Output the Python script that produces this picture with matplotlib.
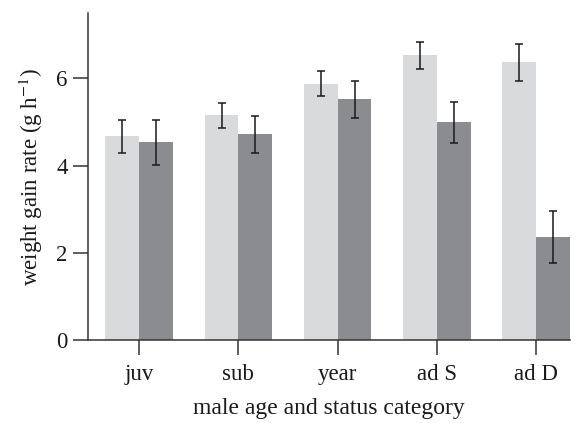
import numpy as np
import matplotlib
matplotlib.use("Agg")
import matplotlib.pyplot as plt

categories = ["juv", "sub", "year", "ad S", "ad D"]
light_vals = [4.67, 5.15, 5.88, 6.53, 6.37]
light_err = [0.38, 0.29, 0.28, 0.31, 0.42]
dark_vals = [4.53, 4.72, 5.52, 4.99, 2.36]
dark_err = [0.51, 0.42, 0.42, 0.47, 0.59]

plt.rcParams['font.family'] = ['Liberation Serif', 'DejaVu Serif']
plt.rcParams['mathtext.fontset'] = 'stix'

fig = plt.figure(figsize=(5.79, 4.23), dpi=100)
ax = fig.add_axes([88/579, 1-340/423, (570-88)/579, (340-13)/423])

x = np.arange(len(categories))
w = 0.34
ekw = dict(ecolor='#1a1a1a', elinewidth=1.1, capsize=3, capthick=1.1)
ax.bar(x - w/2, light_vals, w, yerr=light_err, color='#d9dadc', error_kw=ekw)
ax.bar(x + w/2, dark_vals, w, yerr=dark_err, color='#8b8c90', error_kw=ekw)

ax.set_xlim(-0.515, 4 + w)
ax.set_ylim(0, 7.5)
ax.set_yticks([0, 2, 4, 6])
ax.set_xticks(x)
ax.set_xticklabels(categories)

for s in ['top', 'right']:
    ax.spines[s].set_visible(False)
for s in ['left', 'bottom']:
    ax.spines[s].set_color('#333333')
    ax.spines[s].set_linewidth(1.1)
ax.tick_params(axis='both', direction='out', length=10.5, width=1.1,
               color='#333333', labelsize=16.5, labelcolor='#1a1a1a')
ax.tick_params(axis='x', pad=7)
ax.tick_params(axis='y', pad=4)

ax.set_xlabel("male age and status category", fontsize=17, labelpad=9, color='#1a1a1a')
ax.set_ylabel(r"weight gain rate (g h$^{-1}$)", fontsize=16.5, labelpad=8, color='#1a1a1a')

fig.savefig("out.png", dpi=100)
